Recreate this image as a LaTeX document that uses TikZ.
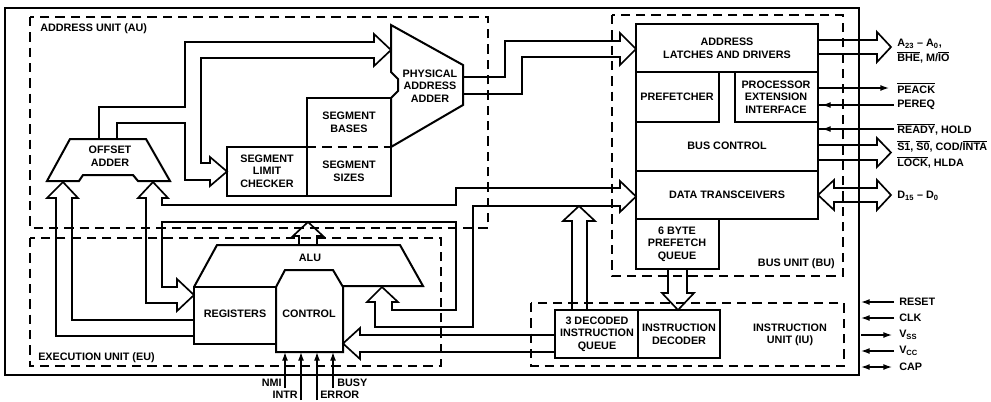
\documentclass[tikz,border=0pt]{standalone}
\usepackage{fontspec}
\setmainfont{Liberation Sans}
\usetikzlibrary{arrows.meta}
\begin{document}
\begin{tikzpicture}[x=0.75pt,y=-0.75pt,
  every node/.style={font=\bfseries\fontsize{8.1}{9.5}\selectfont, align=center, inner sep=0pt},
  blk/.style={line width=1.5pt, line join=miter},
  bus/.style={line width=1.25pt, line join=miter},
  unit/.style={line width=1pt, dash pattern=on 7pt off 4.5pt},
  sig/.style={line width=1pt},
  sigarrow/.style={-{Latex[length=6.5pt,width=4.5pt]}},
  dblarrow/.style={{Latex[length=6.5pt,width=4.5pt]}-{Latex[length=6.5pt,width=4.5pt]}},
]
\useasboundingbox (0,0) rectangle (991,401);

% functional unit borders
\draw[unit] (30,17) rectangle (488,228);
\draw[unit] (30,238) rectangle (441,366);
\draw[unit] (612,15) rectangle (843,276);
\draw[unit] (531,303) rectangle (844,366);

% chip outline
\draw[blk] (5,8) rectangle (859,375);

% unit labels
\node (au) [anchor=west] at (40,29) {ADDRESS UNIT (AU)};
\node (eu) [anchor=west] at (38,358) {EXECUTION UNIT (EU)};
\node (bu) [anchor=east] at (835,264) {BUS UNIT (BU)};
\node (iu) at (790,335) {INSTRUCTION\\UNIT (IU)};

% ---------- address unit ----------
\draw[blk] (47,181) -- (70,139) -- (146,139) -- (170,181) -- (138,181) -- (133,175)
  -- (83,175) -- (79,181) -- cycle;
\node (offadd) at (110,156) {OFFSET\\ADDER};

\draw[blk] (391,25) -- (463,65) -- (463,105) -- (391,147) -- (391,98) -- (398,91)
  -- (398,79) -- (391,72) -- cycle;
\node (phys) at (430,86) {PHYSICAL\\ADDRESS\\ADDER};

\draw[blk] (307,98) rectangle (391,196);
\draw[unit] (307,147) -- (391,147);
\node (segbase) at (349,122) {SEGMENT\\BASES};
\node (segsize) at (349,171) {SEGMENT\\SIZES};

\draw[blk] (227,147) rectangle (307,196);
\node (seglim) at (267,171) {SEGMENT\\LIMIT\\CHECKER};

% offset adder bus to physical adder and limit checker
\draw[bus] (99,139) -- (99,107) -- (185,107) -- (185,42) -- (374,42) -- (374,34)
  -- (391,50) -- (374,66) -- (374,58) -- (201,58) -- (201,163) -- (210,163)
  -- (210,157) -- (227,171.5) -- (210,186) -- (210,180) -- (185,180) -- (185,123)
  -- (117,123) -- (117,139);

% physical adder to address latches
\draw[bus] (463,77) -- (505,77) -- (505,41) -- (620,41) -- (620,33) -- (636,49)
  -- (620,65) -- (620,57) -- (522,57) -- (522,94) -- (463,94);

% ---------- bus unit ----------
\draw[blk] (636,24) rectangle (818,219);
\draw[blk] (636,72) -- (818,72);
\draw[blk] (719,72) -- (719,122) -- (636,122);
\draw[blk] (735,72) -- (735,122) -- (818,122);
\draw[blk] (636,171) -- (818,171);
\draw[blk] (636,219) rectangle (719,269);
\node (alatch) at (727,48) {ADDRESS\\LATCHES AND DRIVERS};
\node (prefetcher) at (677,97) {PREFETCHER};
\node (pei) at (776,97) {PROCESSOR\\EXTENSION\\INTERFACE};
\node (busctl) at (727,146) {BUS CONTROL};
\node (dtrans) at (727,195) {DATA TRANSCEIVERS};
\node (pfq) at (677,244) {6 BYTE\\PREFETCH\\QUEUE};

% ---------- execution unit ----------
\draw[blk] (194,287) -- (217,245) -- (400,245) -- (423,286) -- (343,286);
\draw[blk] (276,352) -- (276,287) -- (285,270) -- (333,270) -- (343,287) -- (343,352) -- cycle;
\draw[blk] (194,287) rectangle (276,344);
\node (alu) at (310,258) {ALU};
\node (regs) at (235,314) {REGISTERS};
\node (ctrl) at (309,314) {CONTROL};

% internal data bus
\draw[bus] (138,198) -- (153,182) -- (168,198) -- (162,198) -- (162,205) -- (456,205)
  -- (456,188) -- (620,188) -- (620,181) -- (636,196.5) -- (620,212) -- (620,206)
  -- (473,206) -- (473,327) -- (375,327) -- (375,302) -- (367,302) -- (382,287)
  -- (398,302) -- (392,302) -- (392,310) -- (456,310) -- (456,222) -- (162,222)
  -- (162,287) -- (177,287) -- (177,279) -- (194,295) -- (177,311) -- (177,303)
  -- (146,303) -- (146,198) -- cycle;

% registers to offset adder
\draw[bus] (194,320) -- (72,320) -- (72,198) -- (78,198) -- (63,182) -- (47,198)
  -- (56,198) -- (56,336) -- (194,336);

% ALU output
\draw[bus] (299,245) -- (299,236) -- (293,236) -- (308,222) -- (323,236) -- (317,236)
  -- (317,245);

% ---------- instruction unit ----------
\draw[blk] (555,310) rectangle (638,358);
\draw[blk] (638,310) rectangle (720,358);
\node (dq) at (597,334) {3 DECODED\\INSTRUCTION\\QUEUE};
\node (idec) at (679,334) {INSTRUCTION\\DECODER};

\draw[bus] (572,310) -- (572,221) -- (563,221) -- (579,206) -- (595,221) -- (587,221)
  -- (587,310);
\draw[bus] (555,335) -- (360,335) -- (360,328) -- (343,343.5) -- (360,359) -- (360,352)
  -- (555,352);
\draw[bus] (668,269) -- (668,293) -- (662,293) -- (678,310) -- (694,293) -- (687,293)
  -- (687,269);

% ---------- external buses ----------
\draw[bus] (818,40) -- (877,40) -- (877,32) -- (891,47) -- (877,62) -- (877,54) -- (818,54);
\draw[bus] (818,145) -- (877,145) -- (877,138) -- (891,152.5) -- (877,167) -- (877,160) -- (818,160);
\draw[bus] (818,195) -- (834,180) -- (834,188) -- (877,188) -- (877,180) -- (891,195)
  -- (877,210) -- (877,202) -- (834,202) -- (834,210) -- cycle;

\node (la) [anchor=west] at (897,44) {A\textsubscript{23} -- A\textsubscript{0},};
\node (lbhe) [anchor=west] at (897,57) {$\overline{\hbox{BHE}}$, M/$\overline{\hbox{IO}}$};
\node (lpeack) [anchor=west] at (897,88) {$\overline{\hbox{PEACK}}$};
\node (lpereq) [anchor=west] at (897,105) {PEREQ};
\node (lready) [anchor=west] at (897,129) {$\overline{\hbox{READY}}$, HOLD};
\node (ls) [anchor=west] at (897,146) {$\overline{\hbox{S1}}$, $\overline{\hbox{S0}}$, COD/$\overline{\hbox{INTA}}$};
\node (llock) [anchor=west] at (897,162) {$\overline{\hbox{LOCK}}$, HLDA};
\node (ld) [anchor=west] at (897,196) {D\textsubscript{15} -- D\textsubscript{0}};

\draw[sig,sigarrow] (818,88) -- (889,88);
\draw[sig] (818,105) -- (894,105);
\draw[sig,sigarrow] (850,105) -- (822,105);
\draw[sig] (818,129) -- (894,129);
\draw[sig,sigarrow] (850,129) -- (822,129);

% pins
\node (lreset) [anchor=west] at (899,302) {RESET};
\node (lclk) [anchor=west] at (899,318) {CLK};
\node (lvss) [anchor=west] at (899,335) {V\textsubscript{SS}};
\node (lvcc) [anchor=west] at (899,351) {V\textsubscript{CC}};
\node (lcap) [anchor=west] at (899,367) {CAP};
\draw[sig,sigarrow] (894,302) -- (861,302);
\draw[sig,sigarrow] (894,318) -- (861,318);
\draw[sig,sigarrow] (861,335) -- (892,335);
\draw[sig,sigarrow] (894,351) -- (861,351);
\draw[sig,dblarrow] (861,367) -- (892,367);

% control inputs
\draw[sig,sigarrow] (285,388) -- (285,352);
\draw[sig,sigarrow] (301,400) -- (301,352);
\draw[sig,sigarrow] (317,400) -- (317,352);
\draw[sig,sigarrow] (333,388) -- (333,352);
\node (lnmi) [anchor=east] at (282,383) {NMI};
\node (lintr) [anchor=east] at (298,395) {INTR};
\node (lerror) [anchor=west] at (320,395) {ERROR};
\node (lbusy) [anchor=west] at (337,383) {BUSY};
\end{tikzpicture}
\end{document}
